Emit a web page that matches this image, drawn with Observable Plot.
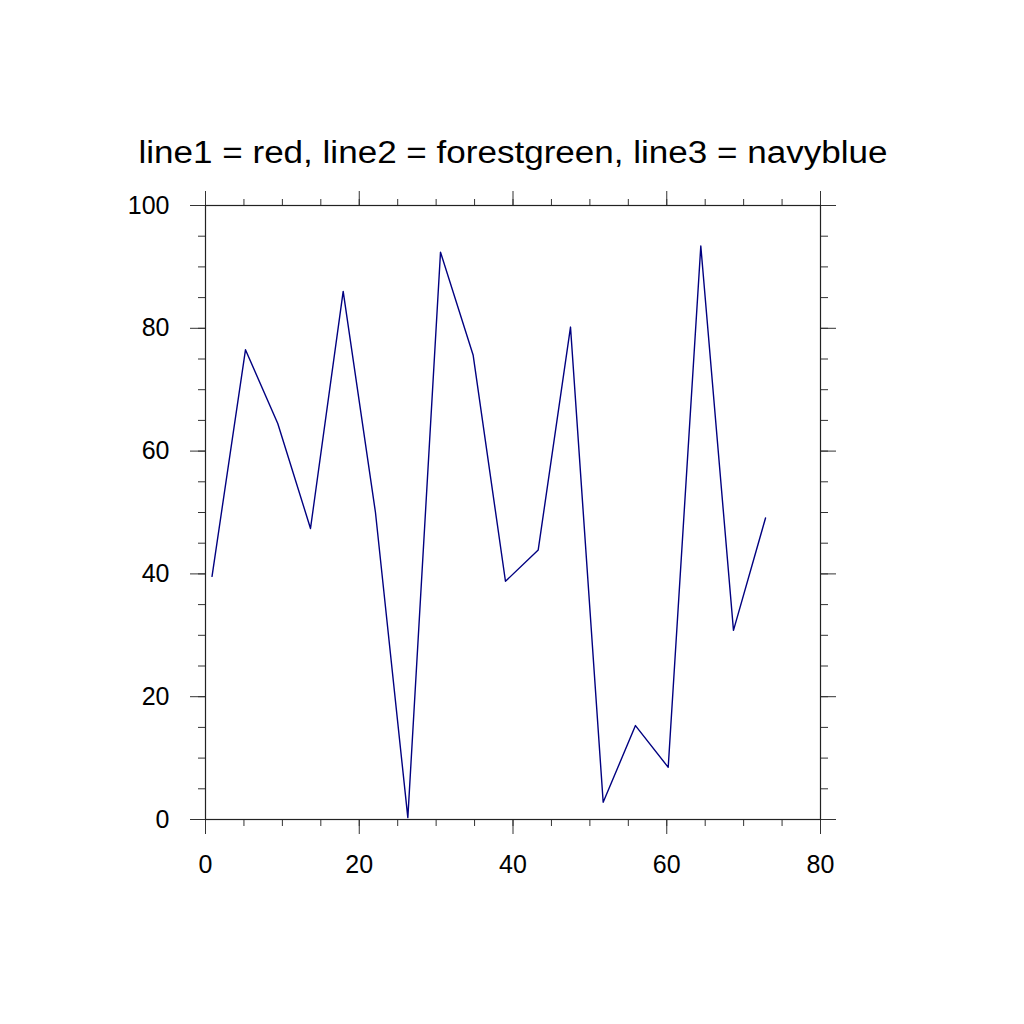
<!DOCTYPE html>
<html>
<head>
<meta charset="utf-8">
<script src="https://cdn.jsdelivr.net/npm/d3@7"></script>
<script src="https://cdn.jsdelivr.net/npm/@observablehq/plot@0.6"></script>
<style>
  html, body { margin: 0; padding: 0; background: #fff; }
  #chart svg { display: block; }
</style>
</head>
<body>
<div id="chart"></div>
<script>
const titleText = "line1 = red, line2 = forestgreen, line3 = navyblue";
const xValues = [0.85, 5.2, 9.4, 13.66, 17.91, 22.11, 26.32, 30.57, 34.82, 39.02, 43.28, 47.48, 51.73, 55.93, 60.19, 64.43, 68.68, 72.85];
const yValues = [39.6, 76.5, 64.5, 47.4, 86.0, 50.0, 0.3, 92.4, 75.6, 38.8, 43.9, 80.2, 2.8, 15.3, 8.5, 93.4, 30.8, 49.1];
const xMajor = [0, 20, 40, 60, 80];
const yMajor = [0, 20, 40, 60, 80, 100];
const xMinor = d3.range(0, 81, 5);
const yMinor = d3.range(0, 101, 5);

const data = xValues.map((x, i) => ({x, y: yValues[i]}));
const font = "'Liberation Sans', Arial, Helvetica, sans-serif";
const blank = () => "";
const tickStroke = "#333";

const chart = Plot.plot({
  width: 1024,
  height: 1024,
  marginLeft: 205,
  marginRight: 204,
  marginTop: 205,
  marginBottom: 205,
  x: {domain: [0, 80]},
  y: {domain: [0, 100]},
  style: {fontFamily: font, background: "#fff", color: "#000"},
  marks: [
    // minor ticks
    Plot.axisX(xMinor, {anchor: "bottom", tickSize: 7, tickFormat: blank, label: null, stroke: tickStroke}),
    Plot.axisX(xMinor, {anchor: "top", tickSize: 7, tickFormat: blank, label: null, stroke: tickStroke}),
    Plot.axisY(yMinor, {anchor: "left", tickSize: 7, tickFormat: blank, label: null, stroke: tickStroke}),
    Plot.axisY(yMinor, {anchor: "right", tickSize: 7, tickFormat: blank, label: null, stroke: tickStroke}),
    // major ticks
    Plot.axisX(xMajor, {anchor: "bottom", tickSize: 15, tickPadding: 21, fontSize: 25, label: null, stroke: tickStroke, fill: "#000"}),
    Plot.axisX(xMajor, {anchor: "top", tickSize: 15, tickFormat: blank, label: null, stroke: tickStroke}),
    Plot.axisY(yMajor, {anchor: "left", tickSize: 15, tickPadding: 21, fontSize: 25, label: null, stroke: tickStroke, fill: "#000"}),
    Plot.axisY(yMajor, {anchor: "right", tickSize: 15, tickFormat: blank, label: null, stroke: tickStroke}),
    Plot.frame({stroke: "#222", strokeWidth: 1.2}),
    Plot.line(data, {x: "x", y: "y", stroke: "#000080", strokeWidth: 1.4}),
    Plot.text([titleText], {frameAnchor: "top", lineAnchor: "bottom", dy: -43, fontSize: 31, fill: "#000", fontFamily: font, className: "chart-title"})
  ]
});
d3.select(chart).selectAll(".chart-title text")
  .attr("textLength", 749)
  .attr("lengthAdjust", "spacingAndGlyphs");
document.getElementById("chart").appendChild(chart);
</script>
</body>
</html>
